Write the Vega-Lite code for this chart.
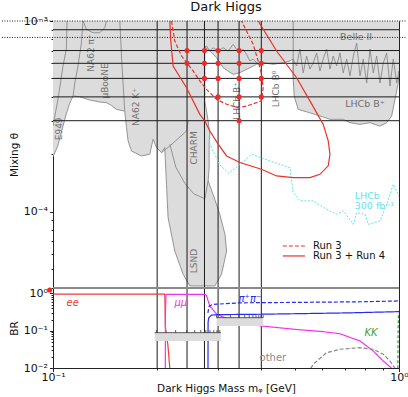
{
 "$schema": "https://vega.github.io/schema/vega-lite/v6.json",
 "padding": {"left": 0, "top": 0, "right": 0, "bottom": 0},
 "spacing": 0,
 "bounds": "flush",
 "resolve": {"scale": {"strokeDash": "independent", "color": "independent"}},
 "config": {
  "font": "DejaVu Sans",
  "view": {"stroke": "#222", "strokeWidth": 1},
  "axis": {"labelFont": "DejaVu Sans", "labelFontSize": 11, "labelColor": "#111", "titleFont": "DejaVu Sans", "titleFontSize": 10.5, "titleFontWeight": "normal", "titleColor": "#111", "domain": false, "grid": false, "tickColor": "#222", "labelFlush": false, "labelOverlap": false},
  "title": {"font": "DejaVu Sans", "fontSize": 13, "fontWeight": "normal", "color": "#111"}
 },
 "datasets": {
  "fill": [
   {"i":1,"m":0.1,"t":0.001},{"i":2,"m":1.0,"t":0.001},{"i":3,"m":1.0,"t":5.47e-4},{"i":4,"m":0.9954,"t":4.75e-4},{"i":5,"m":0.9737,"t":3.88e-4},{"i":6,"m":0.9525,"t":3.18e-4},{"i":7,"m":0.9213,"t":2.93e-4},{"i":8,"m":0.8811,"t":2.81e-4},{"i":9,"m":0.8244,"t":2.93e-4},{"i":10,"m":0.7713,"t":2.87e-4},{"i":11,"m":0.7216,"t":2.93e-4},{"i":12,"m":0.6901,"t":3.05e-4},{"i":13,"m":0.6316,"t":3.05e-4},{"i":14,"m":0.5908,"t":3.18e-4},{"i":15,"m":0.5527,"t":3.30e-4},{"i":16,"m":0.5113,"t":3.44e-4},{"i":17,"m":0.4979,"t":4.04e-4},{"i":18,"m":0.4946,"t":4.97e-4},{"i":19,"m":0.4936,"t":6.32e-4},{"i":20,"m":0.4839,"t":6.17e-4},{"i":21,"m":0.4627,"t":6.04e-4},{"i":22,"m":0.4328,"t":5.93e-4},{"i":23,"m":0.4050,"t":6.04e-4},{"i":24,"m":0.3876,"t":5.93e-4},{"i":25,"m":0.3707,"t":5.69e-4},{"i":26,"m":0.3467,"t":5.36e-4},{"i":27,"m":0.3317,"t":5.25e-4},{"i":28,"m":0.3103,"t":5.69e-4},{"i":29,"m":0.2970,"t":6.42e-4},{"i":30,"m":0.2840,"t":6.96e-4},{"i":31,"m":0.2747,"t":7.31e-4},{"i":32,"m":0.2747,"t":3.81e-4},{"i":33,"m":0.2808,"t":2.99e-4},{"i":34,"m":0.2840,"t":2.55e-4},{"i":35,"m":0.2827,"t":2.26e-4},{"i":36,"m":0.2827,"t":1.70e-4},{"i":37,"m":0.2808,"t":1.45e-4},{"i":38,"m":0.2903,"t":1.23e-4},{"i":39,"m":0.3035,"t":9.69e-5},{"i":40,"m":0.3140,"t":7.61e-5},{"i":41,"m":0.3175,"t":6.22e-5},{"i":42,"m":0.3070,"t":4.70e-5},{"i":43,"m":0.2936,"t":4.08e-5},{"i":44,"m":0.2486,"t":4.08e-5},{"i":45,"m":0.2377,"t":4.70e-5},{"i":46,"m":0.2249,"t":6.22e-5},{"i":47,"m":0.2151,"t":9.30e-5},{"i":48,"m":0.2128,"t":1.39e-4},{"i":49,"m":0.2104,"t":2.17e-4},{"i":50,"m":0.2059,"t":2.04e-4},{"i":51,"m":0.1991,"t":2.17e-4},{"i":52,"m":0.1947,"t":2.40e-4},{"i":53,"m":0.1904,"t":2.00e-4},{"i":54,"m":0.1802,"t":1.96e-4},{"i":55,"m":0.1686,"t":2.08e-4},{"i":56,"m":0.1648,"t":2.35e-4},{"i":57,"m":0.1631,"t":2.76e-4},{"i":58,"m":0.1612,"t":3.37e-4},{"i":59,"m":0.1525,"t":3.44e-4},{"i":60,"m":0.1475,"t":3.61e-4},{"i":61,"m":0.1427,"t":3.73e-4},{"i":62,"m":0.1365,"t":3.76e-4},{"i":63,"m":0.1277,"t":3.85e-4},{"i":64,"m":0.1195,"t":4.01e-4},{"i":65,"m":0.1143,"t":4.04e-4},{"i":66,"m":0.1118,"t":3.715e-4},{"i":67,"m":0.1088,"t":3.18e-4},{"i":68,"m":0.1060,"t":2.65e-4},{"i":69,"m":0.1032,"t":2.21e-4},{"i":70,"m":0.1,"t":1.94e-4}
  ],
  "edges": [
   {"g":"e949in","i":1,"m":0.1,"t":2.81e-4},{"g":"e949in","i":2,"m":0.1034,"t":3.90e-4},{"g":"e949in","i":3,"m":0.1069,"t":5.81e-4},{"g":"e949in","i":4,"m":0.1093,"t":7.13e-4},{"g":"e949in","i":5,"m":0.1098,"t":0.001},
   {"g":"e949out","i":1,"m":0.1143,"t":4.04e-4},{"g":"e949out","i":2,"m":0.1156,"t":4.73e-4},{"g":"e949out","i":3,"m":0.1181,"t":5.81e-4},{"g":"e949out","i":4,"m":0.1208,"t":7.67e-4},{"g":"e949out","i":5,"m":0.1221,"t":0.001},
   {"g":"na62pi","i":1,"m":0.1221,"t":0.001},{"g":"na62pi","i":2,"m":0.1249,"t":9.05e-4},{"g":"na62pi","i":3,"m":0.1305,"t":8.68e-4},{"g":"na62pi","i":4,"m":0.1365,"t":8.68e-4},{"g":"na62pi","i":5,"m":0.1411,"t":9.22e-4},{"g":"na62pi","i":6,"m":0.1427,"t":0.001},
   {"g":"k1","i":1,"m":0.156,"t":0.001},{"g":"k1","i":2,"m":0.158,"t":6.17e-4},{"g":"k1","i":3,"m":0.1612,"t":3.37e-4},
   {"g":"k2","i":1,"m":0.2059,"t":2.04e-4},{"g":"k2","i":2,"m":0.2176,"t":2.21e-4},{"g":"k2","i":3,"m":0.2432,"t":2.65e-4},{"g":"k2","i":4,"m":0.2458,"t":2.99e-4},
   {"g":"charm","i":1,"m":0.2176,"t":2.26e-4},{"g":"charm","i":2,"m":0.2264,"t":1.715e-4},{"g":"charm","i":3,"m":0.2404,"t":1.41e-4},{"g":"charm","i":4,"m":0.2553,"t":1.24e-4},{"g":"charm","i":5,"m":0.2747,"t":1.17e-4},{"g":"charm","i":6,"m":0.2808,"t":1.45e-4},
   {"g":"bplus","i":1,"m":0.4946,"t":0.001},{"g":"bplus","i":2,"m":0.4946,"t":4.97e-4},
   {"g":"n1","i":1,"m":0.4936,"t":6.32e-4},{"g":"n1","i":2,"m":0.5059,"t":5.81e-4},{"g":"n1","i":3,"m":0.5172,"t":7.13e-4},{"g":"n1","i":4,"m":0.5286,"t":5.34e-4},{"g":"n1","i":5,"m":0.5407,"t":6.55e-4},{"g":"n1","i":6,"m":0.5527,"t":5.60e-4},{"g":"n1","i":7,"m":0.5650,"t":6.02e-4},{"g":"n1","i":8,"m":0.5780,"t":6.80e-4},{"g":"n1","i":9,"m":0.5908,"t":5.47e-4},{"g":"n1","i":10,"m":0.6040,"t":6.32e-4},{"g":"n1","i":11,"m":0.6178,"t":7.13e-4},{"g":"n1","i":12,"m":0.6316,"t":5.60e-4},{"g":"n1","i":13,"m":0.6456,"t":6.55e-4},{"g":"n1","i":14,"m":0.6604,"t":5.81e-4},{"g":"n1","i":15,"m":0.6751,"t":6.80e-4},{"g":"n1","i":16,"m":0.6901,"t":5.34e-4},{"g":"n1","i":17,"m":0.7058,"t":6.32e-4},{"g":"n1","i":18,"m":0.7216,"t":5.15e-4},{"g":"n1","i":19,"m":0.7377,"t":6.55e-4},{"g":"n1","i":20,"m":0.7546,"t":7.67e-4},{"g":"n1","i":21,"m":0.7713,"t":5.15e-4},{"g":"n1","i":22,"m":0.7885,"t":6.32e-4},{"g":"n1","i":23,"m":0.8065,"t":4.73e-4},{"g":"n1","i":24,"m":0.8244,"t":7.13e-4},{"g":"n1","i":25,"m":0.8427,"t":5.34e-4},{"g":"n1","i":26,"m":0.8620,"t":6.55e-4},{"g":"n1","i":27,"m":0.8811,"t":4.73e-4},{"g":"n1","i":28,"m":0.9007,"t":6.02e-4},{"g":"n1","i":29,"m":0.9213,"t":6.80e-4},{"g":"n1","i":30,"m":0.9418,"t":4.56e-4},{"g":"n1","i":31,"m":0.9627,"t":6.32e-4},{"g":"n1","i":32,"m":0.9848,"t":4.73e-4},{"g":"n1","i":33,"m":1.0,"t":5.47e-4},
   {"g":"n2","i":1,"m":0.2747,"t":7.31e-4},{"g":"n2","i":2,"m":0.2778,"t":7.39e-4},{"g":"n2","i":3,"m":0.2840,"t":6.96e-4},{"g":"n2","i":4,"m":0.2903,"t":7.24e-4},{"g":"n2","i":5,"m":0.3001,"t":6.96e-4},{"g":"n2","i":6,"m":0.3103,"t":7.24e-4},{"g":"n2","i":7,"m":0.3208,"t":6.96e-4},{"g":"n2","i":8,"m":0.3317,"t":7.55e-4},{"g":"n2","i":9,"m":0.3391,"t":7.10e-4},{"g":"n2","i":10,"m":0.3467,"t":6.82e-4},{"g":"n2","i":11,"m":0.3545,"t":7.10e-4},{"g":"n2","i":12,"m":0.3626,"t":6.69e-4},{"g":"n2","i":13,"m":0.3707,"t":6.17e-4},{"g":"n2","i":14,"m":0.3789,"t":6.30e-4},{"g":"n2","i":15,"m":0.3918,"t":5.93e-4}
  ],
  "red": [
   {"run":"Run 3 + Run 4","i":1,"m":0.2176,"t":0.001},{"run":"Run 3 + Run 4","i":2,"m":0.2190,"t":7.855e-4},{"run":"Run 3 + Run 4","i":3,"m":0.2224,"t":5.81e-4},{"run":"Run 3 + Run 4","i":4,"m":0.2432,"t":4.47e-4},{"run":"Run 3 + Run 4","i":5,"m":0.2657,"t":3.24e-4},{"run":"Run 3 + Run 4","i":6,"m":0.2747,"t":2.99e-4},{"run":"Run 3 + Run 4","i":7,"m":0.2840,"t":2.65e-4},{"run":"Run 3 + Run 4","i":8,"m":0.3001,"t":2.26e-4},{"run":"Run 3 + Run 4","i":9,"m":0.3175,"t":1.96e-4},{"run":"Run 3 + Run 4","i":10,"m":0.3467,"t":1.81e-4},{"run":"Run 3 + Run 4","i":11,"m":0.4002,"t":1.67e-4},{"run":"Run 3 + Run 4","i":12,"m":0.4428,"t":1.54e-4},{"run":"Run 3 + Run 4","i":13,"m":0.4946,"t":1.51e-4},{"run":"Run 3 + Run 4","i":14,"m":0.5527,"t":1.51e-4},{"run":"Run 3 + Run 4","i":15,"m":0.5908,"t":1.57e-4},{"run":"Run 3 + Run 4","i":16,"m":0.6244,"t":1.74e-4},{"run":"Run 3 + Run 4","i":17,"m":0.6316,"t":2.00e-4},{"run":"Run 3 + Run 4","i":18,"m":0.6244,"t":2.35e-4},{"run":"Run 3 + Run 4","i":19,"m":0.6040,"t":2.87e-4},{"run":"Run 3 + Run 4","i":20,"m":0.5527,"t":3.81e-4},{"run":"Run 3 + Run 4","i":21,"m":0.5059,"t":5.04e-4},{"run":"Run 3 + Run 4","i":22,"m":0.4428,"t":6.96e-4},{"run":"Run 3 + Run 4","i":23,"m":0.3918,"t":0.001},
   {"run":"Run 3","i":1,"m":0.2200,"t":0.001},{"run":"Run 3","i":2,"m":0.2249,"t":7.855e-4},{"run":"Run 3","i":3,"m":0.2352,"t":6.55e-4},{"run":"Run 3","i":4,"m":0.2541,"t":5.47e-4},{"run":"Run 3","i":5,"m":0.2657,"t":4.85e-4},{"run":"Run 3","i":6,"m":0.2778,"t":4.38e-4},{"run":"Run 3","i":7,"m":0.2970,"t":3.88e-4},{"run":"Run 3","i":8,"m":0.3175,"t":3.66e-4},{"run":"Run 3","i":9,"m":0.3428,"t":3.51e-4},{"run":"Run 3","i":10,"m":0.3626,"t":3.58e-4},{"run":"Run 3","i":11,"m":0.4002,"t":3.81e-4},{"run":"Run 3","i":12,"m":0.4050,"t":4.47e-4},{"run":"Run 3","i":13,"m":0.4008,"t":5.25e-4},{"run":"Run 3","i":14,"m":0.3918,"t":6.17e-4},{"run":"Run 3","i":15,"m":0.3789,"t":7.55e-4},{"run":"Run 3","i":16,"m":0.3626,"t":8.86e-4},{"run":"Run 3","i":17,"m":0.3507,"t":0.001}
  ],
  "cyan": [
   {"i":1,"m":0.2821,"t":2.495e-4},{"i":2,"m":0.2840,"t":2.26e-4},{"i":3,"m":0.3035,"t":1.76e-4},{"i":4,"m":0.3223,"t":1.59e-4},{"i":5,"m":0.3467,"t":1.77e-4},{"i":6,"m":0.3749,"t":2.00e-4},{"i":7,"m":0.4235,"t":1.845e-4},{"i":8,"m":0.4839,"t":1.70e-4},{"i":9,"m":0.4946,"t":1.26e-4},{"i":10,"m":0.5172,"t":1.14e-4},{"i":11,"m":0.5650,"t":1.14e-4},{"i":12,"m":0.6178,"t":1.03e-4},{"i":13,"m":0.6604,"t":9.69e-5},{"i":14,"m":0.6901,"t":1.01e-4},{"i":15,"m":0.7135,"t":9.30e-5},{"i":16,"m":0.7377,"t":8.59e-5},{"i":17,"m":0.7546,"t":9.88e-5},{"i":18,"m":0.7974,"t":9.69e-5},{"i":19,"m":0.8151,"t":8.59e-5},{"i":20,"m":0.8811,"t":8.94e-5},{"i":21,"m":0.9213,"t":1.09e-4},{"i":22,"m":0.9627,"t":1.39e-4},{"i":23,"m":1.0,"t":1.21e-4}
  ],
  "dots": [
   {"m":0.244,"t":7e-4},{"m":0.274,"t":7e-4},{"m":0.3,"t":7e-4},{"m":0.345,"t":7e-4},{"m":0.4,"t":7e-4},
   {"m":0.244,"t":6e-4},{"m":0.274,"t":6e-4},{"m":0.3,"t":6e-4},{"m":0.345,"t":6e-4},{"m":0.4,"t":6e-4},
   {"m":0.274,"t":5e-4},{"m":0.3,"t":5e-4},{"m":0.345,"t":5e-4},{"m":0.4,"t":5e-4},
   {"m":0.3,"t":4e-4},{"m":0.345,"t":4e-4},{"m":0.4,"t":4e-4},
   {"m":0.345,"t":3e-4}
  ],
  "hlines": [{"t":9e-4},{"t":7e-4},{"t":6e-4},{"t":5e-4},{"t":4e-4},{"t":3e-4}],
  "dotted": [{"m":0.0712,"m2":1.05,"t":0.001},{"m":0.0712,"m2":1.05,"t":8.2e-4}],
  "vlines": [{"m":0.2},{"m":0.244},{"m":0.274},{"m":0.3},{"m":0.345},{"m":0.4}],
  "rotlabels": [
   {"label":"E949","m":0.1039,"t":2.72e-4},{"label":"NA62 π⁺","m":0.1285,"t":6.8e-4},{"label":"μBooNE","m":0.1411,"t":4.85e-4},{"label":"NA62 K⁺","m":0.1735,"t":3.54e-4},{"label":"CHARM","m":0.2553,"t":2.16e-4},{"label":"LSND","m":0.2553,"t":5.51e-5},{"label":"LHCb B⁺","m":0.3399,"t":3.81e-4},{"label":"LHCb B⁰","m":0.4408,"t":4.4e-4}
  ],
  "hlabels": [{"label":"LHCb B⁺","m":0.7974,"t":3.67e-4},{"label":"Belle II","m":0.7515,"t":8.24e-4}],
  "cyanlabels": [{"label":"LHCb","m":0.7449,"t":1.21e-4},{"label":"300 fb⁻¹","m":0.7449,"t":1.07e-4}],
  "br": [
   {"ch":"ee","i":1,"m":0.1,"br":0.96},{"ch":"ee","i":2,"m":0.2104,"br":0.96},{"ch":"ee","i":3,"m":0.2108,"br":0.4},{"ch":"ee","i":4,"m":0.2112,"br":0.13},{"ch":"ee","i":5,"m":0.2147,"br":0.043},{"ch":"ee","i":6,"m":0.2176,"br":0.0098},
   {"ch":"mumu","i":1,"m":0.2112,"br":0.0098},{"ch":"mumu","i":2,"m":0.2113,"br":0.3},{"ch":"mumu","i":3,"m":0.2122,"br":0.95},{"ch":"mumu","i":4,"m":0.2747,"br":0.95},{"ch":"mumu","i":5,"m":0.2778,"br":0.88},{"ch":"mumu","i":6,"m":0.2808,"br":0.63},{"ch":"mumu","i":7,"m":0.284,"br":0.46},{"ch":"mumu","i":8,"m":0.297,"br":0.28},{"ch":"mumu","i":9,"m":0.33,"br":0.18},{"ch":"mumu","i":10,"m":0.4,"br":0.134},{"ch":"mumu","i":11,"m":0.5,"br":0.109},{"ch":"mumu","i":12,"m":0.6,"br":0.095},{"ch":"mumu","i":13,"m":0.6751,"br":0.083},{"ch":"mumu","i":14,"m":0.7713,"br":0.053},{"ch":"mumu","i":15,"m":0.8427,"br":0.0286},{"ch":"mumu","i":16,"m":0.9007,"br":0.0154},{"ch":"mumu","i":17,"m":0.9525,"br":0.0098},
   {"ch":"pipm","i":1,"m":0.2803,"br":0.3},{"ch":"pipm","i":2,"m":0.2825,"br":0.45},{"ch":"pipm","i":3,"m":0.288,"br":0.5},{"ch":"pipm","i":4,"m":0.297,"br":0.515},{"ch":"pipm","i":5,"m":0.3467,"br":0.56},{"ch":"pipm","i":6,"m":0.5,"br":0.575},{"ch":"pipm","i":7,"m":0.8,"br":0.6},{"ch":"pipm","i":8,"m":1.0,"br":0.63},
   {"ch":"pi0","i":1,"m":0.2805,"br":0.0098},{"ch":"pi0","i":2,"m":0.2807,"br":0.17},{"ch":"pi0","i":3,"m":0.2818,"br":0.22},{"ch":"pi0","i":4,"m":0.287,"br":0.262},{"ch":"pi0","i":5,"m":0.3,"br":0.27},{"ch":"pi0","i":6,"m":0.4,"br":0.277},{"ch":"pi0","i":7,"m":0.7,"br":0.3},{"ch":"pi0","i":8,"m":1.0,"br":0.325},
   {"ch":"other","i":1,"m":0.555,"br":0.0098},{"ch":"other","i":2,"m":0.5715,"br":0.0139},{"ch":"other","i":3,"m":0.6178,"br":0.0257},{"ch":"other","i":4,"m":0.6751,"br":0.0318},{"ch":"other","i":5,"m":0.7713,"br":0.0351},{"ch":"other","i":6,"m":0.8427,"br":0.0318},{"ch":"other","i":7,"m":0.9007,"br":0.0233},{"ch":"other","i":8,"m":0.9418,"br":0.0154},{"ch":"other","i":9,"m":0.9737,"br":0.0098},
   {"ch":"kk","i":1,"m":0.9925,"br":0.0098},{"ch":"kk","i":2,"m":0.994,"br":0.1},{"ch":"kk","i":3,"m":0.996,"br":0.3}
  ],
  "bands": [{"m":0.1967,"m2":0.3056,"lo":0.0531,"hi":0.0887},{"m":0.297,"m2":0.405,"lo":0.134,"hi":0.224}],
  "bandticks": [
   {"m":0.1991,"lo":0.0887,"hi":0.104},{"m":0.2262,"lo":0.0887,"hi":0.104},{"m":0.2435,"lo":0.0887,"hi":0.104},{"m":0.2567,"lo":0.0887,"hi":0.104},{"m":0.2673,"lo":0.0887,"hi":0.104},{"m":0.2765,"lo":0.0887,"hi":0.104},{"m":0.2843,"lo":0.0887,"hi":0.104},{"m":0.2915,"lo":0.0887,"hi":0.104},{"m":0.2977,"lo":0.0887,"hi":0.104},{"m":0.3035,"lo":0.0887,"hi":0.104},
   {"m":0.297,"lo":0.224,"hi":0.262},{"m":0.326,"lo":0.224,"hi":0.262},{"m":0.3443,"lo":0.224,"hi":0.262},{"m":0.3581,"lo":0.224,"hi":0.262},{"m":0.369,"lo":0.224,"hi":0.262},{"m":0.3782,"lo":0.224,"hi":0.262},{"m":0.3861,"lo":0.224,"hi":0.262},{"m":0.3931,"lo":0.224,"hi":0.262},{"m":0.3994,"lo":0.224,"hi":0.262},{"m":0.405,"lo":0.224,"hi":0.262}
  ],
  "brlabels": [{"label":"ee","ch":"ee","m":0.114,"br":0.556},{"label":"μμ","ch":"mumu","m":0.2341,"br":0.556},{"label":"π⁺π⁻","ch":"pipm","m":0.3707,"br":0.712},{"label":"KK","ch":"kk","m":0.8299,"br":0.0871}],
  "otherlabel": [{"label":"other","m":0.432,"br":0.0186}],
  "edgedot": [{"m":0.0978,"br":1.24}]
 },
 "vconcat": [
  {
   "title": {"text": "Dark Higgs", "anchor": "middle", "offset": 1},
   "width": 346, "height": 267,
   "layer": [
    {"data": {"name": "fill"},
     "mark": {"type": "line", "fill": "#dcdcdc", "stroke": "#dcdcdc", "strokeWidth": 0, "clip": true},
     "encoding": {
      "x": {"field": "m", "type": "quantitative", "scale": {"type": "log", "domain": [0.1, 1], "nice": false}, "axis": null},
      "y": {"field": "t", "type": "quantitative", "scale": {"type": "log", "domain": [3.98e-5, 0.001], "nice": false},
            "axis": {"title": "Mixing θ", "values": [4e-5,5e-5,6e-5,7e-5,8e-5,9e-5,1e-4,2e-4,3e-4,4e-4,5e-4,6e-4,7e-4,8e-4,9e-4,0.001],
                     "labelExpr": "abs(log(datum.value)/LN10+3)<0.01 ? '10⁻³' : (abs(log(datum.value)/LN10+4)<0.01 ? '10⁻⁴' : '')",
                     "tickSize": {"condition": {"test": "abs(log(datum.value)/LN10 - round(log(datum.value)/LN10)) < 0.01", "value": 3.5}, "value": 2},
                     "labelPadding": 2, "titlePadding": 4}},
      "order": {"field": "i", "type": "quantitative"}
     }},
    {"data": {"name": "fill"},
     "transform": [{"filter": "datum.i >= 3"}],
     "mark": {"type": "line", "stroke": "#8a8a8a", "strokeWidth": 0.9, "clip": true},
     "encoding": {
      "x": {"field": "m", "type": "quantitative", "scale": {"type": "log"}, "axis": null},
      "y": {"field": "t", "type": "quantitative", "scale": {"type": "log"}},
      "order": {"field": "i", "type": "quantitative"}
     }},
    {"data": {"name": "edges"},
     "mark": {"type": "line", "stroke": "#8a8a8a", "strokeWidth": 0.9, "clip": true},
     "encoding": {
      "x": {"field": "m", "type": "quantitative", "scale": {"type": "log"}, "axis": null},
      "y": {"field": "t", "type": "quantitative", "scale": {"type": "log"}},
      "detail": {"field": "g"},
      "order": {"field": "i", "type": "quantitative"}
     }},
    {"data": {"name": "rotlabels"},
     "mark": {"type": "text", "angle": 270, "fontSize": 9, "color": "#707070", "align": "center", "baseline": "middle"},
     "encoding": {
      "x": {"field": "m", "type": "quantitative", "scale": {"type": "log"}, "axis": null},
      "y": {"field": "t", "type": "quantitative", "scale": {"type": "log"}},
      "text": {"field": "label"}
     }},
    {"data": {"name": "hlabels"},
     "mark": {"type": "text", "fontSize": 9.5, "color": "#707070", "align": "center", "baseline": "middle"},
     "encoding": {
      "x": {"field": "m", "type": "quantitative", "scale": {"type": "log"}, "axis": null},
      "y": {"field": "t", "type": "quantitative", "scale": {"type": "log"}},
      "text": {"field": "label"}
     }},
    {"data": {"name": "vlines"},
     "mark": {"type": "rule", "color": "#1a1a1a", "strokeWidth": 1},
     "encoding": {"x": {"field": "m", "type": "quantitative", "scale": {"type": "log"}, "axis": null}}},
    {"data": {"name": "hlines"},
     "mark": {"type": "rule", "color": "#1a1a1a", "strokeWidth": 1},
     "encoding": {"y": {"field": "t", "type": "quantitative", "scale": {"type": "log"}}}},
    {"data": {"name": "dotted"},
     "mark": {"type": "rule", "color": "#1a1a1a", "strokeWidth": 1, "strokeDash": [1, 1.5], "clip": false},
     "encoding": {
      "x": {"field": "m", "type": "quantitative", "scale": {"type": "log"}, "axis": null},
      "x2": {"field": "m2"},
      "y": {"field": "t", "type": "quantitative", "scale": {"type": "log"}}
     }},
    {"data": {"name": "cyan"},
     "mark": {"type": "line", "stroke": "#5fe3ee", "strokeWidth": 1, "strokeDash": [2, 1.5], "clip": true},
     "encoding": {
      "x": {"field": "m", "type": "quantitative", "scale": {"type": "log"}, "axis": null},
      "y": {"field": "t", "type": "quantitative", "scale": {"type": "log"}},
      "order": {"field": "i", "type": "quantitative"}
     }},
    {"data": {"name": "cyanlabels"},
     "mark": {"type": "text", "fontSize": 9.5, "color": "#5fe3ee", "align": "left", "baseline": "middle"},
     "encoding": {
      "x": {"field": "m", "type": "quantitative", "scale": {"type": "log"}, "axis": null},
      "y": {"field": "t", "type": "quantitative", "scale": {"type": "log"}},
      "text": {"field": "label"}
     }},
    {"data": {"name": "red"},
     "transform": [{"filter": "datum.run == 'Run 3 + Run 4'"}],
     "mark": {"type": "line", "stroke": "#e8312a", "strokeWidth": 1.2, "clip": true},
     "encoding": {
      "x": {"field": "m", "type": "quantitative", "scale": {"type": "log"}, "axis": null},
      "y": {"field": "t", "type": "quantitative", "scale": {"type": "log"}},
      "order": {"field": "i", "type": "quantitative"}
     }},
    {"data": {"name": "red"},
     "transform": [{"filter": "datum.run == 'Run 3'"}],
     "mark": {"type": "line", "stroke": "#e8312a", "strokeWidth": 1.2, "strokeDash": [4, 2], "clip": true},
     "encoding": {
      "x": {"field": "m", "type": "quantitative", "scale": {"type": "log"}, "axis": null},
      "y": {"field": "t", "type": "quantitative", "scale": {"type": "log"}},
      "order": {"field": "i", "type": "quantitative"}
     }},
    {"data": {"name": "dots"},
     "mark": {"type": "circle", "color": "#ee2a2a", "opacity": 1, "size": 26},
     "encoding": {
      "x": {"field": "m", "type": "quantitative", "scale": {"type": "log"}, "axis": null},
      "y": {"field": "t", "type": "quantitative", "scale": {"type": "log"}}
     }},
    {"data": {"values": [{}]},
     "mark": {"type": "rule", "color": "#e8312a", "strokeWidth": 1.2, "strokeDash": [4, 2]},
     "encoding": {"x": {"datum": 0.4616, "type": "quantitative", "scale": {"type": "log"}, "axis": null}, "x2": {"datum": 0.5347}, "y": {"datum": 6.61e-5, "type": "quantitative", "scale": {"type": "log"}}}},
    {"data": {"values": [{}]},
     "mark": {"type": "rule", "color": "#e8312a", "strokeWidth": 1.2},
     "encoding": {"x": {"datum": 0.4616, "type": "quantitative", "scale": {"type": "log"}, "axis": null}, "x2": {"datum": 0.5347}, "y": {"datum": 5.86e-5, "type": "quantitative", "scale": {"type": "log"}}}},
    {"data": {"values": [{}]},
     "mark": {"type": "text", "text": "Run 3", "fontSize": 10, "color": "#111", "align": "left", "baseline": "middle"},
     "encoding": {"x": {"datum": 0.5639, "type": "quantitative", "scale": {"type": "log"}, "axis": null}, "y": {"datum": 6.61e-5, "type": "quantitative", "scale": {"type": "log"}}}},
    {"data": {"values": [{}]},
     "mark": {"type": "text", "text": "Run 3 + Run 4", "fontSize": 10, "color": "#111", "align": "left", "baseline": "middle"},
     "encoding": {"x": {"datum": 0.5639, "type": "quantitative", "scale": {"type": "log"}, "axis": null}, "y": {"datum": 5.86e-5, "type": "quantitative", "scale": {"type": "log"}}}}
   ]
  },
  {
   "width": 346, "height": 80,
   "layer": [
    {"data": {"name": "vlines"},
     "mark": {"type": "rule", "color": "#1a1a1a", "strokeWidth": 1},
     "encoding": {"x": {"field": "m", "type": "quantitative", "scale": {"type": "log", "domain": [0.1, 1], "nice": false},
       "axis": {"title": "Dark Higgs Mass mᵩ [GeV]", "values": [0.1,0.2,0.3,0.4,0.5,0.6,0.7,0.8,0.9,1],
                "labelExpr": "datum.value < 0.15 ? '10⁻¹' : (datum.value > 0.95 ? '10⁰' : '')",
                "tickSize": {"condition": {"test": "datum.value < 0.15 || datum.value > 0.95", "value": 3.5}, "value": 2},
                "labelPadding": 0, "titlePadding": 1}}}},
    {"data": {"name": "br"},
     "mark": {"type": "line", "strokeWidth": 1.2, "clip": true},
     "encoding": {
      "x": {"field": "m", "type": "quantitative", "scale": {"type": "log"}},
      "y": {"field": "br", "type": "quantitative", "scale": {"type": "log", "domain": [0.01, 1.4], "nice": false},
            "axis": {"title": "BR", "values": [0.01,0.02,0.03,0.04,0.05,0.06,0.07,0.08,0.09,0.1,0.2,0.3,0.4,0.5,0.6,0.7,0.8,0.9,1],
                     "labelExpr": "abs(datum.value-1)<0.001 ? '10⁰' : (abs(datum.value-0.1)<0.0001 ? '10⁻¹' : (abs(datum.value-0.01)<0.00001 ? '10⁻²' : ''))",
                     "tickSize": {"condition": {"test": "abs(log(datum.value)/LN10 - round(log(datum.value)/LN10)) < 0.01", "value": 3.5}, "value": 2},
                     "labelPadding": 2, "titlePadding": 4}},
      "color": {"field": "ch", "type": "nominal", "scale": {"domain": ["ee", "mumu", "pipm", "pi0", "other", "kk"], "range": ["#ee3b3b", "#ee33ee", "#2a2af0", "#2a2af0", "#888888", "#3a9a3a"]}, "legend": null},
      "strokeDash": {"field": "ch", "type": "nominal", "scale": {"domain": ["ee", "mumu", "pipm", "pi0", "other", "kk"], "range": [[1, 0], [1, 0], [4, 2], [1, 0], [4, 2], [3, 2]]}, "legend": null},
      "order": {"field": "i", "type": "quantitative"}
     }},
    {"data": {"name": "bands"},
     "mark": {"type": "rect", "color": "#dcdcdc"},
     "encoding": {
      "x": {"field": "m", "type": "quantitative", "scale": {"type": "log"}},
      "x2": {"field": "m2"},
      "y": {"field": "lo", "type": "quantitative", "scale": {"type": "log"}},
      "y2": {"field": "hi"}
     }},
    {"data": {"name": "bands"},
     "mark": {"type": "rule", "color": "#333", "strokeWidth": 0.8},
     "encoding": {
      "x": {"field": "m", "type": "quantitative", "scale": {"type": "log"}},
      "x2": {"field": "m2"},
      "y": {"field": "hi", "type": "quantitative", "scale": {"type": "log"}}
     }},
    {"data": {"name": "bandticks"},
     "mark": {"type": "rule", "color": "#333", "strokeWidth": 0.8},
     "encoding": {
      "x": {"field": "m", "type": "quantitative", "scale": {"type": "log"}},
      "y": {"field": "lo", "type": "quantitative", "scale": {"type": "log"}},
      "y2": {"field": "hi"}
     }},
    {"data": {"name": "brlabels"},
     "mark": {"type": "text", "fontSize": 10, "fontStyle": "italic", "align": "center", "baseline": "middle"},
     "encoding": {
      "x": {"field": "m", "type": "quantitative", "scale": {"type": "log"}},
      "y": {"field": "br", "type": "quantitative", "scale": {"type": "log"}},
      "text": {"field": "label"},
      "color": {"field": "ch", "type": "nominal", "legend": null}
     }},
    {"data": {"name": "otherlabel"},
     "mark": {"type": "text", "fontSize": 10, "color": "#8a8a8a", "align": "center", "baseline": "middle"},
     "encoding": {
      "x": {"field": "m", "type": "quantitative", "scale": {"type": "log"}},
      "y": {"field": "br", "type": "quantitative", "scale": {"type": "log"}},
      "text": {"field": "label"}
     }},
    {"data": {"values": [{}]},
     "mark": {"type": "rule", "color": "#8a8a8a", "strokeWidth": 2},
     "encoding": {"y": {"datum": 1.4, "type": "quantitative", "scale": {"type": "log"}}}},
    {"data": {"name": "edgedot"},
     "mark": {"type": "circle", "color": "#ee2a2a", "opacity": 1, "size": 26, "clip": false},
     "encoding": {
      "x": {"field": "m", "type": "quantitative", "scale": {"type": "log"}},
      "y": {"field": "br", "type": "quantitative", "scale": {"type": "log"}}
     }}
   ]
  }
 ]
}
